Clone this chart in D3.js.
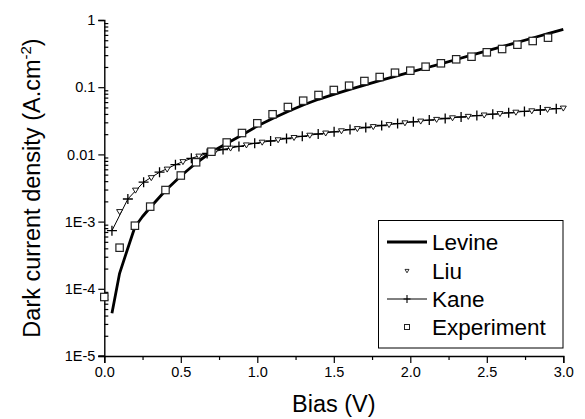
<!DOCTYPE html>
<html><head><meta charset="utf-8">
<script src="https://cdn.jsdelivr.net/npm/d3@7"></script>
<style>
html,body{margin:0;padding:0;background:#fff;}
svg{display:block;font-family:"Liberation Sans",Arial,sans-serif;}
</style></head>
<body>
<svg id="chart" width="585" height="419"></svg>
<script>
// ---- data ----
const levineV = [0.05,0.1,0.15,0.2,0.25,0.3,0.4,0.5,0.6,0.7,0.8,0.9,1.0,1.1,1.2,1.3,1.4,1.5,1.6,1.7,1.8,1.9,2.0,2.1,2.2,2.3,2.4,2.5,2.6,2.7,2.8,2.9,3.0];
const levineJ = [4.32e-5,1.70e-4,3.78e-4,8.32e-4,1.19e-3,1.62e-3,2.90e-3,4.77e-3,7.45e-3,0.01086,0.01452,0.01944,0.02646,0.0342,0.04348,0.05433,0.06607,0.07834,0.09204,0.1074,0.125,0.1449,0.1673,0.1931,0.223,0.2582,0.2992,0.3467,0.4018,0.4656,0.5395,0.6252,0.7244];

const liuV = [0.10,0.204,0.307,0.411,0.514,0.618,0.722,0.825,0.929,1.032,1.136,1.240,1.343,1.447,1.550,1.654,1.758,1.861,1.965,2.068,2.172,2.276,2.379,2.483,2.586,2.690,2.794,2.897,3.0];
const liuJ = [1.39e-3,2.90e-3,4.45e-3,5.96e-3,7.70e-3,9.30e-3,0.01086,0.01225,0.01365,0.01499,0.01627,0.01761,0.01904,0.02052,0.02215,0.02388,0.02558,0.02738,0.02911,0.03089,0.03273,0.03459,0.0363,0.03805,0.03993,0.04188,0.04393,0.0461,0.04821];

const kaneV = [0.05,0.154,0.257,0.361,0.465,0.569,0.672,0.776,0.880,0.983,1.087,1.191,1.294,1.398,1.502,1.606,1.709,1.813,1.917,2.020,2.124,2.228,2.332,2.435,2.539,2.643,2.746,2.850,2.954];
const kaneJ = [7.32e-4,2.17e-3,3.86e-3,5.43e-3,7.03e-3,8.75e-3,0.01031,0.01183,0.01312,0.01463,0.01582,0.01724,0.01858,0.02012,0.0217,0.02339,0.02514,0.02692,0.02873,0.03055,0.03238,0.03421,0.03603,0.03779,0.03966,0.04159,0.04363,0.04577,0.04786];

const expV = [0.0,0.1,0.2,0.3,0.4,0.5,0.6,0.7,0.8,0.9,1.0,1.1,1.2,1.3,1.4,1.5,1.6,1.7,1.8,1.9,2.0,2.1,2.2,2.3,2.4,2.5,2.6,2.7,2.8,2.9];
const expJ = [7.55e-5,4.09e-4,8.69e-4,1.67e-3,2.95e-3,4.85e-3,7.63e-3,0.01097,0.01504,0.02081,0.02904,0.03952,0.05073,0.06297,0.07656,0.09085,0.1053,0.1236,0.1418,0.1643,0.1761,0.2018,0.2268,0.2601,0.2844,0.3306,0.3702,0.429,0.487,0.5458];

const xTicks = [0,0.5,1.0,1.5,2.0,2.5,3.0];
const xMinor = [0.25,0.75,1.25,1.75,2.25,2.75];
const yTicks = [1,0.1,0.01,1e-3,1e-4,1e-5];
const yTickLabels = ["1","0.1","0.01","1E-3","1E-4","1E-5"];
const seriesNames = ["Levine","Liu","Kane","Experiment"];

// ---- chart ----
const svg = d3.select("#chart");
const x = d3.scaleLinear().domain([0,3]).range([104.3,563.3]);
const y = d3.scaleLog().domain([1e-5,1]).range([356,20]);

// minor y ticks (inside)
const yMinor = [];
for (let e=-5; e<0; e++) for (let m=2; m<=9; m++) yMinor.push(m*Math.pow(10,e));

const gy = svg.append("g").attr("transform",`translate(${x(0)},0)`);
gy.call(d3.axisLeft(y).tickValues(yTicks).tickSize(6).tickPadding(3)
  .tickFormat((d,i)=>yTickLabels[i]));
gy.append("g").call(d3.axisRight(y).tickValues(yMinor).tickSize(4).tickFormat(""))
  .select(".domain").remove();
gy.selectAll("text").attr("font-size",14.5).attr("fill","#000").attr("font-family","Liberation Sans, Arial, sans-serif");
gy.selectAll("line").attr("stroke","#000").attr("stroke-width",1.2);
gy.selectAll(".domain").attr("stroke","#000").attr("stroke-width",1.4);

const gx = svg.append("g").attr("transform",`translate(0,${y(1e-5)})`);
gx.call(d3.axisBottom(x).tickValues(xTicks).tickSize(7).tickPadding(4).tickFormat(d3.format(".1f")));
gx.append("g").call(d3.axisBottom(x).tickValues(xMinor).tickSize(4).tickFormat(""))
  .select(".domain").remove();
gx.selectAll("text").attr("font-size",14.5).attr("fill","#000").attr("font-family","Liberation Sans, Arial, sans-serif");
gx.selectAll("line").attr("stroke","#000").attr("stroke-width",1.2);
gx.selectAll(".domain").attr("stroke","#000").attr("stroke-width",1.4);
svg.append("line").attr("x1",x(0)-6).attr("x2",x(0)).attr("y1",y(1e-5)).attr("y2",y(1e-5))
  .attr("stroke","#000").attr("stroke-width",1.4);

// axis titles
svg.append("text").attr("x",(x(0)+x(3))/2).attr("y",412).attr("text-anchor","middle")
  .attr("font-size",23.5).text("Bias (V)");
const yt = svg.append("text").attr("transform",`translate(40,${(y(1)+y(1e-5))/2}) rotate(-90)`)
  .attr("text-anchor","middle").attr("font-size",23.5);
yt.append("tspan").text("Dark current density (A.cm");
yt.append("tspan").attr("font-size",15).attr("dy",-9).text("-2");
yt.append("tspan").attr("dy",9).text(")");

// markers
const triPath = "M-3,-2.4L3,-2.4L0,2.6Z";
const plusPath = "M-5,0H5M0,-5V5";

// Levine line
const levine = levineV.map((v,i)=>[v,levineJ[i]]);
svg.append("path").datum(levine)
  .attr("d", d3.line().x(d=>x(d[0])).y(d=>y(d[1])))
  .attr("fill","none").attr("stroke","#000").attr("stroke-width",2.8).attr("stroke-linejoin","round");

// Kane line + plus
const kane = kaneV.map((v,i)=>[v,kaneJ[i]]);
svg.append("path").datum(kane)
  .attr("d", d3.line().x(d=>x(d[0])).y(d=>y(d[1])))
  .attr("fill","none").attr("stroke","#000").attr("stroke-width",1);
svg.append("g").selectAll("path").data(kane).join("path")
  .attr("transform",d=>`translate(${x(d[0])},${y(d[1])})`)
  .attr("d",plusPath).attr("stroke","#000").attr("stroke-width",1.3).attr("fill","none");

// Liu triangles
const liu = liuV.map((v,i)=>[v,liuJ[i]]);
svg.append("g").selectAll("path").data(liu).join("path")
  .attr("transform",d=>`translate(${x(d[0])},${y(d[1])})`)
  .attr("d",triPath).attr("stroke","#000").attr("stroke-width",0.9).attr("fill","#fff");

// Experiment squares
const exp = expV.map((v,i)=>[v,expJ[i]]);
svg.append("g").selectAll("rect").data(exp).join("rect")
  .attr("x",d=>x(d[0])-3.7).attr("y",d=>y(d[1])-3.7).attr("width",7.4).attr("height",7.4)
  .attr("fill","#fff").attr("stroke","#222").attr("stroke-width",1.2);

// legend
const lg = svg.append("g");
lg.append("rect").attr("x",378.5).attr("y",220.5).attr("width",184.5).attr("height",127.5)
  .attr("fill","#fff").attr("stroke","#000").attr("stroke-width",1);
const ly = [242,271,299,327];
seriesNames.forEach((n,i)=>{
  lg.append("text").attr("x",432).attr("y",ly[i]+8).attr("font-size",22.5).text(n);
});
lg.append("line").attr("x1",387).attr("x2",427).attr("y1",ly[0]).attr("y2",ly[0]).attr("stroke","#000").attr("stroke-width",2.8);
lg.append("path").attr("transform",`translate(407,${ly[1]})`).attr("d","M-2,-1.6L2,-1.6L0,1.8Z").attr("stroke","#000").attr("stroke-width",0.8).attr("fill","#fff");
lg.append("line").attr("x1",387).attr("x2",427).attr("y1",ly[2]).attr("y2",ly[2]).attr("stroke","#000").attr("stroke-width",1);
lg.append("path").attr("transform",`translate(407,${ly[2]})`).attr("d","M-3.5,0H3.5M0,-4V4").attr("stroke","#000").attr("stroke-width",1.1);
lg.append("rect").attr("x",404.5).attr("y",ly[3]-2.5).attr("width",5).attr("height",5).attr("fill","#fff").attr("stroke","#222").attr("stroke-width",1);
</script>
</body></html>
